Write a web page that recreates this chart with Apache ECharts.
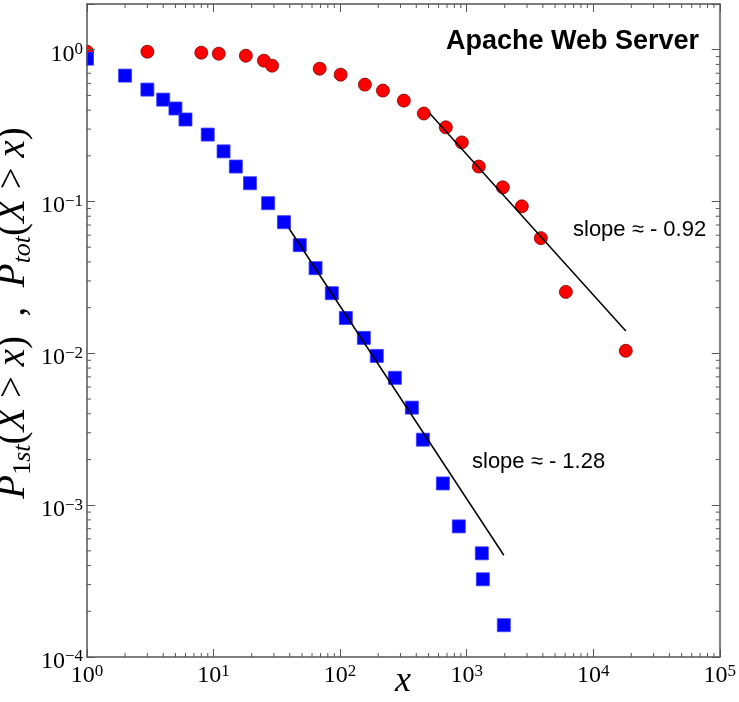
<!DOCTYPE html>
<html><head><meta charset="utf-8">
<script src="https://cdn.jsdelivr.net/npm/echarts@6/dist/echarts.min.js"></script>
<style>html,body{margin:0;padding:0;background:#fff}#c{width:739px;height:702px}</style>
</head><body><div id="c"></div>
<script>
// P_tot(X > x) — red circles
const totX = [1, 3, 8, 11, 18, 25, 29, 69, 101, 157, 218, 319, 459, 685, 916, 1248, 1932, 2730, 3855, 6080, 18100];
const totY = [0.97, 0.97, 0.956, 0.941, 0.913, 0.847, 0.785, 0.75, 0.685, 0.589, 0.538, 0.462, 0.38, 0.308, 0.245, 0.17, 0.124, 0.093, 0.0574, 0.0254, 0.0104];
// P_1st(X > x) — blue squares
const firstX = [1, 2, 3, 4, 5, 6, 9, 12, 15, 19.4, 27, 36, 48, 64, 86, 111, 154, 195, 271, 369, 451, 649, 867, 1318, 1343, 1967];
const firstY = [0.873, 0.675, 0.546, 0.469, 0.41, 0.347, 0.276, 0.214, 0.17, 0.132, 0.0975, 0.0731, 0.0516, 0.0364, 0.0249, 0.0171, 0.01264, 0.00962, 0.0069, 0.00439, 0.0027, 0.00139, 0.000725, 0.000482, 0.000325, 0.000162];
// fitted power-law segments
const fitTotX = [512, 18100];
const fitTotY = [0.38, 0.01406];
const fitFirstX = [39.4, 1967];
const fitFirstY = [0.0667, 0.000468];
// axes
const xMin = 1, xMax = 100000;
const yMin = 0.0001, yMax = 2;
const xDecades = [0, 1, 2, 3, 4];
const yDecades = [-4, -3, -2, -1, 0];
const minorMults = [2, 3, 4, 5, 6, 7, 8, 9];
// texts
const titleText = 'Apache Web Server';
const slopeTotText = 'slope \u2248 - 0.92';
const slopeFirstText = 'slope \u2248 - 1.28';

const frameColor = '#555555';
const serif = '"Liberation Serif", "DejaVu Serif", serif';
const sans = '"Liberation Sans", Arial, sans-serif';

function zip(a, b) { return a.map((v, i) => [v, b[i]]); }

const minorData = [];
xDecades.forEach(e => minorMults.forEach(m => {
  const v = m * Math.pow(10, e);
  if (v > xMin && v < xMax) minorData.push([v, yMin, 0]);
}));
yDecades.forEach(e => minorMults.forEach(m => {
  const v = m * Math.pow(10, e);
  if (v > yMin && v < yMax) minorData.push([xMin, v, 1]);
}));

function powLabel(v) {
  const lg = Math.log10(v);
  const e = Math.round(lg);
  if (Math.abs(lg - e) > 1e-6) return '';
  const s = e < 0 ? '\u2212' + (-e) : String(e);
  return '{b|10}{s|' + s + '}';
}
const richLab = {
  b: { fontFamily: serif, fontSize: 24, color: '#000', lineHeight: 25, verticalAlign: 'bottom' },
  s: { fontFamily: serif, fontSize: 17, color: '#000', lineHeight: 15, verticalAlign: 'top' }
};

const axisCommon = {
  type: 'log', logBase: 10, z: 10,
  axisLine: { show: true, onZero: false, lineStyle: { color: frameColor, width: 1.5 } },
  axisTick: { show: true, inside: true, length: 8, lineStyle: { color: frameColor, width: 1 } },
  splitLine: { show: false },
  minorTick: { show: false },
  minorSplitLine: { show: false }
};

const chart = echarts.init(document.getElementById('c'));
chart.setOption({
  animation: false,
  backgroundColor: '#fff',
  grid: { left: 87, right: 19, top: 4, bottom: 45, containLabel: false },
  xAxis: [
    Object.assign({}, axisCommon, { position: 'bottom', min: xMin, max: xMax,
      axisLabel: { show: true, margin: 6, formatter: powLabel, rich: richLab } }),
    Object.assign({}, axisCommon, { position: 'top', min: xMin, max: xMax, axisLabel: { show: false } })
  ],
  yAxis: [
    Object.assign({}, axisCommon, { position: 'left', min: yMin, max: yMax,
      axisLabel: { show: true, margin: 4, padding: [8, 0, 0, 0], formatter: powLabel, rich: richLab } }),
    Object.assign({}, axisCommon, { position: 'right', min: yMin, max: yMax, axisLabel: { show: false } })
  ],
  graphic: [
    // white mask left of the plot frame so markers on the frame are cut in half
    { type: 'rect', z: 5, silent: true, shape: { x: 0, y: 0, width: 86.3, height: 702 }, style: { fill: '#fff' } },
    { type: 'text', z: 10, x: 446, y: 42, style: { text: titleText, font: 'bold 27px ' + sans, fill: '#000', textVerticalAlign: 'middle' } },
    { type: 'text', z: 10, x: 573, y: 230, style: { text: slopeTotText, font: '22px ' + sans, fill: '#000', textVerticalAlign: 'middle' } },
    { type: 'text', z: 10, x: 472, y: 462, style: { text: slopeFirstText, font: '22px ' + sans, fill: '#000', textVerticalAlign: 'middle' } },
    { type: 'text', z: 10, x: 403, y: 682, style: { text: 'x', font: 'italic 36px ' + serif, fill: '#000', textAlign: 'center', textVerticalAlign: 'middle' } },
    { type: 'text', z: 10, x: 15, y: 313, rotation: Math.PI / 2,
      style: {
        text: '{i|P}{sub|1}{subi|st}{n|(}{i|X}{n| > }{i|x}{n|)  ,  }{i|P}{subi|tot}{n|(}{i|X}{n| > }{i|x}{n|)}',
        align: 'center', verticalAlign: 'middle',
        rich: {
          i: { fontFamily: serif, fontStyle: 'italic', fontSize: 39, lineHeight: 42, verticalAlign: 'top', fill: '#000' },
          n: { fontFamily: serif, fontSize: 39, lineHeight: 42, verticalAlign: 'top', fill: '#000' },
          sub: { fontFamily: serif, fontSize: 26, lineHeight: 25, verticalAlign: 'bottom', fill: '#000' },
          subi: { fontFamily: serif, fontStyle: 'italic', fontSize: 26, lineHeight: 25, verticalAlign: 'bottom', fill: '#000' }
        }
      } }
  ],
  series: [
    {
      type: 'custom', name: 'minor', silent: true, z: 1,
      data: minorData,
      renderItem: function (params, api) {
        const cs = params.coordSys;
        const kind = api.value(2);
        const p = api.coord([api.value(0), api.value(1)]);
        const L = 4;
        const st = { stroke: frameColor, lineWidth: 1 };
        if (kind === 0) {
          return { type: 'group', children: [
            { type: 'line', shape: { x1: p[0], y1: cs.y + cs.height, x2: p[0], y2: cs.y + cs.height - L }, style: st },
            { type: 'line', shape: { x1: p[0], y1: cs.y, x2: p[0], y2: cs.y + L }, style: st }
          ] };
        }
        return { type: 'group', children: [
          { type: 'line', shape: { x1: cs.x, y1: p[1], x2: cs.x + L, y2: p[1] }, style: st },
          { type: 'line', shape: { x1: cs.x + cs.width, y1: p[1], x2: cs.x + cs.width - L, y2: p[1] }, style: st }
        ] };
      }
    },
    {
      type: 'scatter', name: 'tot', data: zip(totX, totY), symbol: 'circle', symbolSize: 13, z: 3,
      itemStyle: { color: '#ff0000', borderColor: '#7a0000', borderWidth: 0.8, opacity: 1 }
    },
    {
      type: 'scatter', name: 'first', data: zip(firstX, firstY), symbol: 'rect', symbolSize: 13, z: 3,
      itemStyle: { color: '#0000ff', borderColor: '#3a3aff', borderWidth: 0.8, opacity: 1 }
    },
    {
      type: 'line', name: 'fitTot', data: zip(fitTotX, fitTotY), symbol: 'none', z: 4,
      lineStyle: { color: '#000', width: 1.5 }
    },
    {
      type: 'line', name: 'fitFirst', data: zip(fitFirstX, fitFirstY), symbol: 'none', z: 4,
      lineStyle: { color: '#000', width: 1.5 }
    }
  ]
});
</script>
</body></html>
